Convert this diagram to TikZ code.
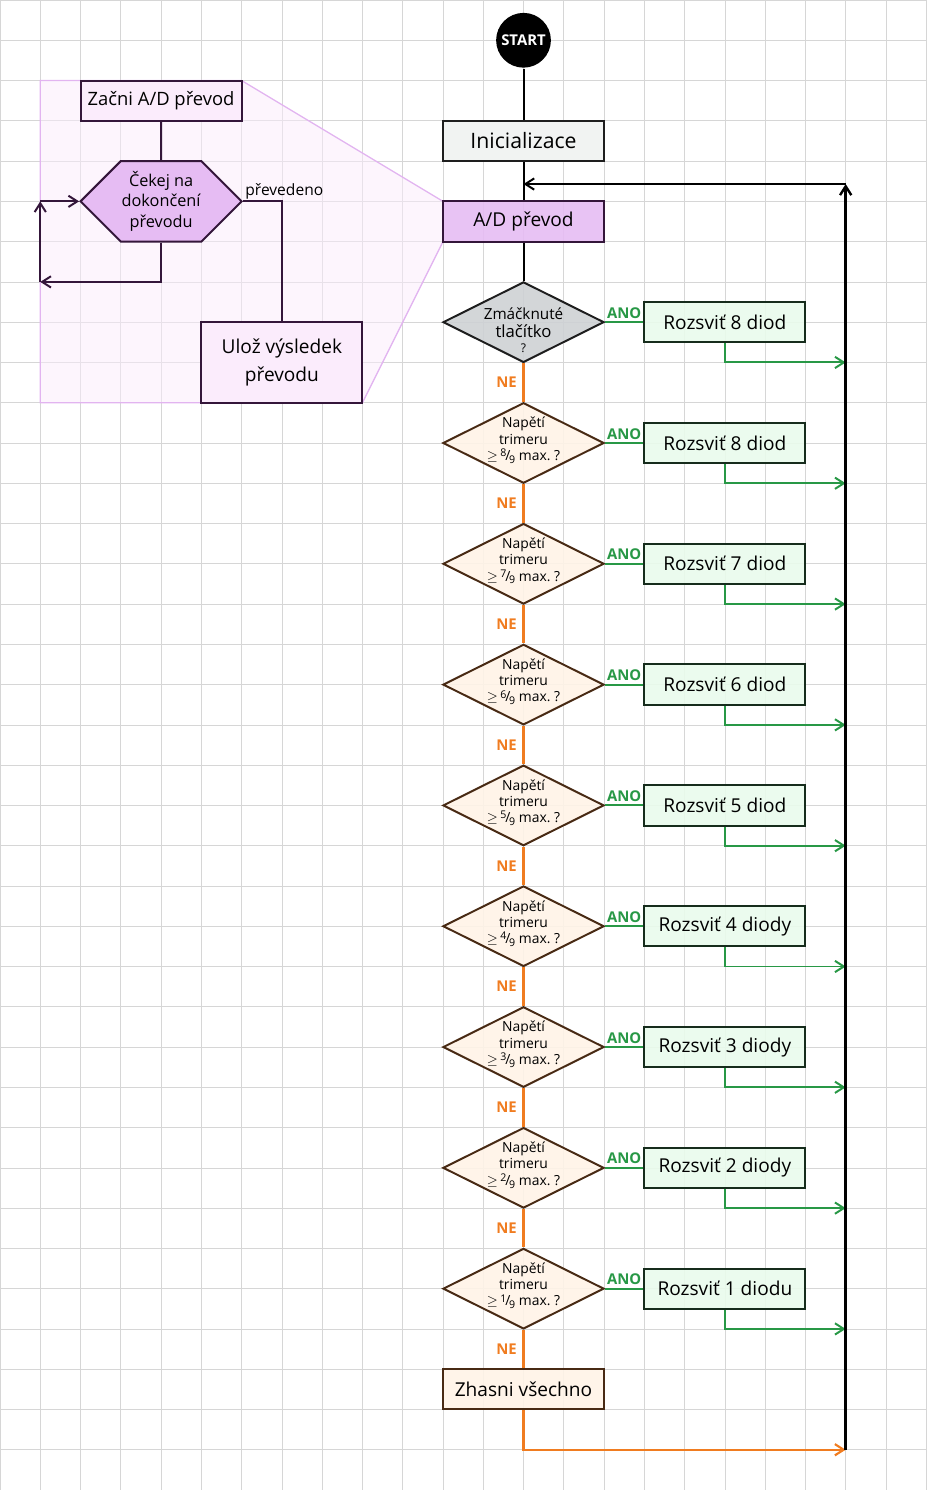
\documentclass[tikz,border=0pt]{standalone}
\usepackage{amsmath}
\usepackage{amssymb}
\usepackage{fontspec}
\setmainfont{Open Sans}
\usepackage{tikz}
\usetikzlibrary{shapes.geometric, shapes.symbols, arrows.meta, positioning, calc}
\definecolor{gridgray}{RGB}{214,214,214}
\definecolor{inkdark}{RGB}{30,30,30}
\definecolor{initgray}{RGB}{241,243,242}
\definecolor{adviolet}{RGB}{230,188,243}
\definecolor{insetline}{RGB}{226,180,240}
\definecolor{insetfill}{RGB}{251,236,252}
\definecolor{subink}{RGB}{52,22,58}
\definecolor{pressgray}{RGB}{206,209,212}
\definecolor{askfill}{RGB}{255,243,231}
\definecolor{askink}{RGB}{72,42,20}
\definecolor{ledfill}{RGB}{233,251,236}
\definecolor{ledink}{RGB}{22,44,28}
\definecolor{anogreen}{RGB}{40,152,70}
\definecolor{neorange}{RGB}{240,124,32}

\begin{document}
\begin{tikzpicture}[>={Straight Barb[length=2.2mm,width=2.8mm]}, line width=1.4pt]
    \tikzset{box/.style={rectangle, draw=inkdark, minimum width=4cm, minimum height=1cm,
                         inner sep=1pt, align=center, font=\fontsize{13.5}{16}\selectfont},
             ask/.style={diamond, draw=askink, fill=askfill, fill opacity=0.9, text opacity=1,
                         minimum width=4cm, minimum height=2cm, aspect=2, inner sep=0pt,
                         align=center, font=\fontsize{9.8}{11.4}\selectfont},
             led/.style={box, draw=ledink, fill=ledfill, fill opacity=0.9, text opacity=1},
             ano/.style={anogreen, font=\fontsize{10.5}{12}\selectfont\bfseries, inner sep=2pt},
             ne/.style={neorange, font=\fontsize{10.5}{12}\selectfont\bfseries, inner sep=4pt},
             yes/.style={draw=anogreen, line width=1.4pt},
             no/.style={draw=neorange, line width=1.5pt}}
    \useasboundingbox (0,0) rectangle (23,-37);
    \draw[gridgray, line width=0.5pt, step=1] (-0.02,-37) grid (23,0.02);

    % left detail of the conversion
    \draw[insetline, fill=insetfill, fill opacity=0.5, line width=0.9pt]
      (1,-2) -- (6,-2) -- (11,-5) -- (11,-6) -- (9,-10) -- (1,-10) -- cycle;
    \node[box, draw=subink, fill=insetfill, font=\fontsize{13}{16}\selectfont] (begin) at (4,-2.5) {Začni A/D převod};
    \node[signal, signal to=west and east, signal pointer angle=90, draw=subink, fill=adviolet,
          minimum width=4cm, minimum height=2cm, inner sep=0pt, align=center,
          font=\fontsize{11.5}{14.5}\selectfont] (wait) at (4,-5) {Čekej na\\dokončení\\převodu};
    \node[box, draw=subink, fill=insetfill, minimum height=2cm,
          font=\fontsize{13.5}{20}\selectfont] (store) at (7,-9) {Ulož výsledek\\převodu};
    \coordinate (lpA) at (1,-7);
    \coordinate (lpB) at (1,-5);
    \draw[subink] (begin) -- (wait);
    \draw[subink] (wait.east) -| node[pos=0, above right, inner sep=1pt, font=\fontsize{11}{13}\selectfont, black] {převedeno} (store.north);
    \draw[subink, ->] (wait.south) |- (lpA);
    \draw[subink, ->] (lpA) -- (lpB);
    \draw[subink, ->] (lpB) -- (wait.west);

    % main column
    \node[circle, fill=black, text=white, minimum size=1.36cm, inner sep=0pt,
          font=\fontsize{10.5}{12}\selectfont\bfseries] (start) at (13,-1) {START};
    \node[box, fill=initgray, font=\fontsize{15}{18}\selectfont] (init) at (13,-3.5) {Inicializace};
    \node[box, fill=adviolet, draw=subink, fill opacity=0.9, text opacity=1] (adc) at (13,-5.5) {A/D převod};
    \node[ask, fill=pressgray, draw=inkdark, font=\fontsize{10.8}{12}\selectfont] (d0) at (13,-8)
      {\raisebox{-10pt}[0.3cm][0.3cm]{\makebox[1.4cm]{\begin{tabular}{@{}c@{}}Zmáčknuté\\[0pt]{\fontsize{11.8}{12}\selectfont tlačítko}\\[-1pt]{\fontsize{8.5}{8}\selectfont ?}\end{tabular}}}};
    \node[led] (led0) at (18,-8) {Rozsviť 8 diod};
    \coordinate (merge) at (13,-4.57);
    \coordinate (top) at (21,-4.57);
    \coordinate (bottom) at (21,-36);
    \coordinate (ret0) at (21,-9);
    \draw (start) -- (init);
    \draw (init) -- (adc);
    \draw (adc) -- (d0);
    \draw[yes] (d0.east) -- node[ano, above] {ANO} (led0.west);
    \draw[yes, ->] (led0.south) |- (ret0);

    \foreach \k/\n/\txt in {1/8/8 diod, 2/7/7 diod, 3/6/6 diod, 4/5/5 diod,
                            5/4/4 diody, 6/3/3 diody, 7/2/2 diody, 8/1/1 diodu} {
      \pgfmathsetmacro\yy{-8-3*\k}
      \pgfmathtruncatemacro\prev{\k-1}
      \node[ask] (d\k) at (13,\yy) {\raisebox{-1pt}[0.3cm][0.3cm]{\makebox[1.4cm]{\begin{tabular}{@{}c@{}}Napětí\\trimeru\\$\geq$\,\raisebox{0.5ex}{\fontsize{7.5}{8}\selectfont\n}\kern-0.08em/\kern-0.08em\raisebox{-0.4ex}{\fontsize{7.5}{8}\selectfont 9} max.~?\end{tabular}}}};
      \node[led] (led\k) at (18,\yy) {Rozsviť \txt};
      \coordinate (ret\k) at (21,\yy-1);
      \draw[no] (d\prev.south) -- node[ne, left] {NE} (d\k.north);
      \draw[yes] (d\k.east) -- node[ano, above] {ANO} (led\k.west);
      \draw[yes, ->] (led\k.south) |- (ret\k);
    }

    \node[box, draw=askink, fill=askfill, fill opacity=0.9, text opacity=1] (off) at (13,-34.5) {Zhasni všechno};
    \draw[no] (d8.south) -- node[ne, left] {NE} (off.north);
    \draw[no, ->] (off.south) |- (bottom);
    \draw[->, line width=1.7pt] (bottom) -- (top);
    \draw[->] (top) -- (merge);
\end{tikzpicture}
\end{document}
